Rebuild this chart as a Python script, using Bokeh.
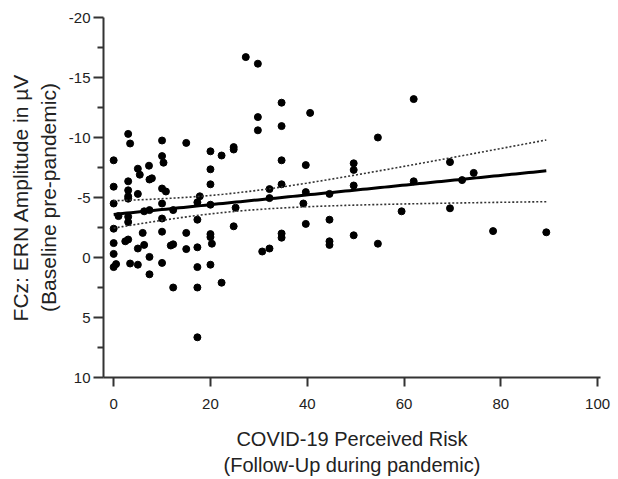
import numpy as np
from bokeh.plotting import figure
from bokeh.models import Range1d, FixedTicker
from bokeh.embed import file_html
from bokeh.resources import INLINE

# ---- data ----
risk = [0, 0, 0, 0, 0, 0, 0, 0.5, 1,
        3, 3.4, 3, 3, 3, 3, 3, 3, 2.4, 3, 3.4,
        5, 5, 5, 5, 5.4, 6, 6.3, 6.3,
        7.3, 7.4, 7.9, 7.4, 7.4, 7.4,
        10, 10, 10.3, 10, 10.8, 10, 10, 10, 10,
        12.3, 11.8, 12.3, 12.3,
        15, 15, 15,
        17.8, 17.3, 17.3, 17.3, 17.3, 17.3, 17.3,
        20, 20, 20, 20, 20, 20, 20.3, 20,
        22.3, 22.3,
        24.8, 24.8, 25.2, 24.8,
        27.3, 29.8, 29.8, 29.8, 30.7,
        32.2, 32.2, 32.2,
        34.7, 34.7, 34.7, 34.7, 34.7, 34.7,
        40.6, 39.7, 39.7, 39.2, 39.7,
        44.6, 44.6, 44.6, 44.6,
        49.6, 49.6, 49.6, 49.6,
        54.6, 54.6,
        59.5, 62, 62, 69.5, 69.5, 72, 74.4, 78.4, 89.4]
ern = [-8.1, -5.9, -4.5, -2.4, -1.2, -0.3, 0.8, 0.55, -3.45,
       -10.3, -9.5, -6.35, -5.6, -5.1, -4.9, -3.4, -2.95, -1.35, -1.5, 0.5,
       -7.4, -5.3, -0.75, 0.6, -6.9, -2.05, -3.85, -1.05,
       -7.65, -6.5, -6.6, -3.95, -0.05, 1.4,
       -9.75, -8.45, -7.9, -5.75, -5.5, -4.5, -3.25, -2.15, 0.45,
       -3.95, -1.0, -1.1, 2.5,
       -9.55, -2.05, -0.7,
       -5.1, -4.6, -3.15, -0.85, 0.8, 2.5, 6.65,
       -8.85, -7.35, -6.1, -4.4, -1.95, -1.7, -1.15, 0.6,
       -8.5, 2.1,
       -9.2, -9.0, -4.15, -2.6,
       -16.7, -16.15, -11.7, -10.6, -0.5,
       -5.7, -4.95, -0.75,
       -12.9, -10.95, -8.1, -6.1, -2.0, -1.65,
       -12.05, -7.7, -5.45, -4.5, -2.8,
       -5.3, -3.15, -1.35, -1.05,
       -7.85, -7.3, -6.0, -1.85,
       -10.0, -1.15,
       -3.85, -13.2, -6.35, -7.95, -4.1, -6.45, -7.05, -2.2, -2.1]

x_ticks = [0, 20, 40, 60, 80, 100]
y_ticks = [-20, -15, -10, -5, 0, 5, 10]
y_minor = [-17.5, -12.5, -7.5, -2.5, 2.5, 7.5]
T_CRIT = 1.98  # two-sided 95% t value, df ~ 118

# ---- linear regression with 95% confidence band ----
xa = np.array(risk, dtype=float)
ya = np.array(ern, dtype=float)
n = len(xa)
slope, intercept = np.polyfit(xa, ya, 1)
resid = ya - (intercept + slope * xa)
s = np.sqrt(np.sum(resid ** 2) / (n - 2))
xm = xa.mean()
sxx = np.sum((xa - xm) ** 2)
xf = np.linspace(0, xa.max(), 100)
yf = intercept + slope * xf
half = T_CRIT * s * np.sqrt(1.0 / n + (xf - xm) ** 2 / sxx)

FONT = "Liberation Sans"
TXT = "#222222"
AX = "#333333"

p = figure(width=618, height=479,
           x_range=Range1d(-2.1, 100.6), y_range=Range1d(10, -20),
           output_backend="svg", toolbar_location=None,
           min_border_left=103, min_border_right=18,
           min_border_top=17, min_border_bottom=102)

p.outline_line_color = None
p.xgrid.visible = False
p.ygrid.visible = False
p.background_fill_color = "white"

p.scatter(risk, ern, size=7, color="black", line_color="black")
p.line(xf, yf, line_width=3, color="black")
p.line(xf, yf + half, line_width=1.6, color="#333333", line_dash="2 2")
p.line(xf, yf - half, line_width=1.6, color="#333333", line_dash="2 2")

# x axis
xa_ = p.xaxis[0]
xa_.ticker = FixedTicker(ticks=x_ticks)
xa_.major_label_overrides = {t: str(t) for t in x_ticks}
xa_.axis_label = "COVID-19 Perceived Risk\n(Follow-Up during pandemic)"
xa_.axis_label_text_font = FONT
xa_.axis_label_text_font_size = "20px"
xa_.axis_label_text_font_style = "normal"
xa_.axis_label_text_color = TXT
xa_.axis_label_standoff = 16
xa_.major_label_text_font = FONT
xa_.major_label_text_font_size = "15px"
xa_.major_label_text_color = TXT
xa_.major_label_standoff = 12
xa_.axis_line_width = 2
xa_.axis_line_color = AX
xa_.major_tick_line_width = 2
xa_.major_tick_line_color = AX
xa_.major_tick_in = 0
xa_.major_tick_out = 9
xa_.minor_tick_line_color = None

# y axis
ya_ = p.yaxis[0]
ya_.ticker = FixedTicker(ticks=y_ticks, minor_ticks=y_minor)
ya_.major_label_overrides = {t: str(t) for t in y_ticks}
ya_.axis_label = "FCz: ERN Amplitude in µV\n(Baseline pre-pandemic)"
ya_.axis_label_text_font = FONT
ya_.axis_label_text_font_size = "21px"
ya_.axis_label_text_font_style = "normal"
ya_.axis_label_text_color = TXT
ya_.axis_label_standoff = 6
ya_.major_label_text_font = FONT
ya_.major_label_text_font_size = "15px"
ya_.major_label_text_color = TXT
ya_.major_label_standoff = 3
ya_.axis_line_width = 2
ya_.axis_line_color = AX
ya_.major_tick_line_width = 2
ya_.major_tick_line_color = AX
ya_.major_tick_in = 0
ya_.major_tick_out = 10
ya_.minor_tick_line_width = 2
ya_.minor_tick_line_color = AX
ya_.minor_tick_in = 0
ya_.minor_tick_out = 6

open("out.html", "w").write(file_html(p, INLINE))
